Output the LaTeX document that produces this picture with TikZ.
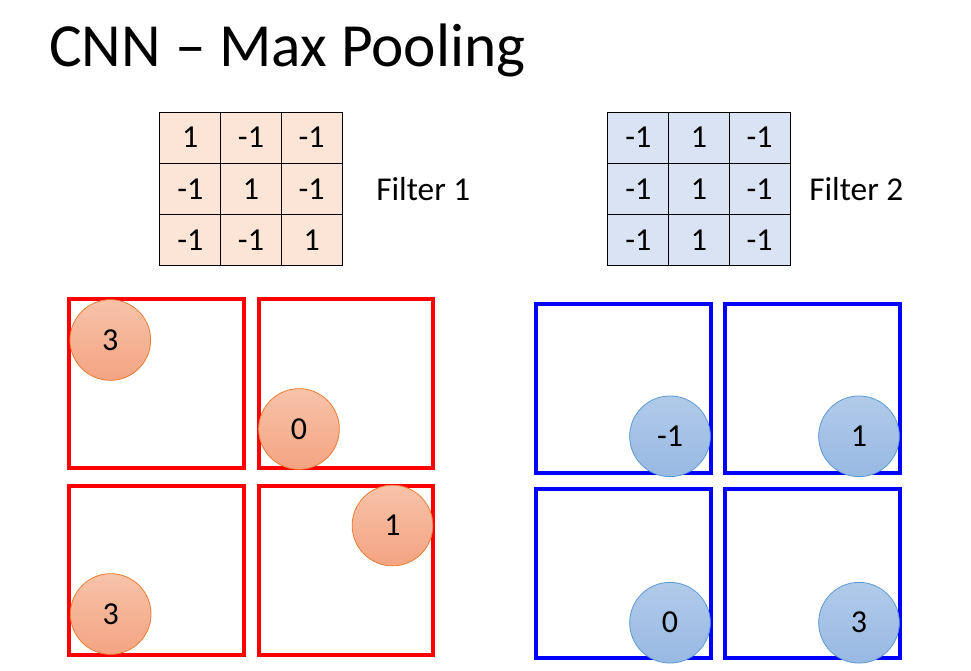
\documentclass[tikz,border=0pt]{standalone}
\usepackage{fontspec}
\setmainfont{Carlito}
\definecolor{peach}{HTML}{FBE5D6}
\definecolor{paleblue}{HTML}{DAE3F3}
\definecolor{orangeedge}{HTML}{ED7D31}
\definecolor{blueedge}{HTML}{5B9BD5}
\definecolor{ortop}{HTML}{F7C3A9}
\definecolor{orbot}{HTML}{F4A482}
\definecolor{bltop}{HTML}{B1CAE9}
\definecolor{blbot}{HTML}{98B9E3}
\definecolor{pptred}{HTML}{FF0000}
\definecolor{pptblue}{HTML}{0000FF}
\tikzset{
  cellA/.style={draw=black, line width=0.75pt, fill=peach, minimum width=45.5pt, minimum height=38.5pt, inner sep=0pt, font=\fontsize{24}{28}\selectfont},
  cellB/.style={cellA, fill=paleblue},
  flabel/.style={anchor=base west, inner sep=0pt, font=\fontsize{25}{29}\selectfont},
  redbox/.style={draw=pptred, line width=3pt},
  bluebox/.style={draw=pptblue, line width=3pt},
  orcircle/.style={circle, draw=orangeedge, line width=0.6pt, top color=ortop, bottom color=orbot, minimum size=60.5pt, inner sep=0pt, font=\fontsize{24}{28}\selectfont},
  blcircle/.style={circle, draw=blueedge, line width=0.6pt, top color=bltop, bottom color=blbot, minimum size=60.5pt, inner sep=0pt, font=\fontsize{24}{28}\selectfont}
}
\begin{document}
\begin{tikzpicture}[x=0.75pt,y=-0.75pt]
\useasboundingbox (0,0) rectangle (971,671);
\fill[white] (0,0) rectangle (971,671);
% title
\node[anchor=base west, inner sep=0pt, font=\fontsize{46}{52}\selectfont] (title) at (49,66) {CNN -- Max Pooling};
% filter 1
\node[cellA] (a11) at (190.3,137.7) {1};
\node[cellA] (a12) at (251.0,137.7) {-1};
\node[cellA] (a13) at (311.7,137.7) {-1};
\node[cellA] (a21) at (190.3,189.0) {-1};
\node[cellA] (a22) at (251.0,189.0) {1};
\node[cellA] (a23) at (311.7,189.0) {-1};
\node[cellA] (a31) at (190.3,240.3) {-1};
\node[cellA] (a32) at (251.0,240.3) {-1};
\node[cellA] (a33) at (311.7,240.3) {1};
\node[flabel] (f1) at (376,200) {Filter 1};
% filter 2
\node[cellB] (b11) at (638.3,137.7) {-1};
\node[cellB] (b12) at (699.0,137.7) {1};
\node[cellB] (b13) at (759.7,137.7) {-1};
\node[cellB] (b21) at (638.3,189.0) {-1};
\node[cellB] (b22) at (699.0,189.0) {1};
\node[cellB] (b23) at (759.7,189.0) {-1};
\node[cellB] (b31) at (638.3,240.3) {-1};
\node[cellB] (b32) at (699.0,240.3) {1};
\node[cellB] (b33) at (759.7,240.3) {-1};
\node[flabel] (f2) at (809,200) {Filter 2};
% red squares
\draw[redbox] (69,299) rectangle (243.5,468);
\draw[redbox] (258.5,299) rectangle (433,468);
\draw[redbox] (69,485.5) rectangle (243.5,655);
\draw[redbox] (258.5,485.5) rectangle (433,655);
% blue squares
\draw[bluebox] (536,303.5) rectangle (711,473);
\draw[bluebox] (725,303.5) rectangle (899.5,473);
\draw[bluebox] (536,489) rectangle (711,657.5);
\draw[bluebox] (725,489) rectangle (899.5,657.5);
% orange circles
\node[orcircle] (c1) at (110.3,340) {3};
\node[orcircle] (c2) at (299,429) {0};
\node[orcircle] (c3) at (392.5,525.5) {1};
\node[orcircle] (c4) at (110.7,614) {3};
% blue circles
\node[blcircle] (d1) at (670,436.3) {-1};
\node[blcircle] (d2) at (859,436.3) {1};
\node[blcircle] (d3) at (670,622.7) {0};
\node[blcircle] (d4) at (859,622.7) {3};
\end{tikzpicture}
\end{document}
